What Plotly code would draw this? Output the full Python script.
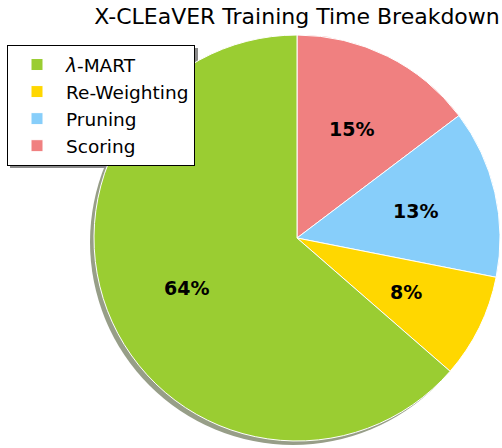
import math
import plotly.graph_objects as go

labels = ["<i>λ</i>-MART", "Re-Weighting", "Pruning", "Scoring"]
values = [63.6, 8.3, 13.4, 14.7]
colors = ["#9ACD32", "#FFD700", "#87CEFA", "#F08080"]
title = "X-CLEaVER Training Time Breakdown"

W, H = 502, 448
cx, cy, r = 297, 238, 203  # pie centre / radius in pixels (top-left origin)

# plotly draws clockwise from 12 o'clock; reference goes counter-clockwise,
# so feed the slices reversed and reverse the legend back.
fig = go.Figure(go.Pie(
    labels=labels[::-1], values=values[::-1], sort=False, direction="clockwise", rotation=0,
    marker=dict(colors=colors[::-1], line=dict(color="white", width=1)),
    textinfo="none",
    domain=dict(x=[(cx - r) / W, (cx + r) / W], y=[(H - cy - r) / H, (H - cy + r) / H]),
    hoverinfo="skip",
))

# percentage labels at 0.6 of the radius, in the middle of each slice
total = sum(values)
cum = 0.0
for v in values:
    ang = math.radians(90 + 360 * (cum + v / 2) / total)
    cum += v
    px = cx + 0.6 * r * math.cos(ang)
    py = cy - 0.6 * r * math.sin(ang)
    fig.add_annotation(x=px / W, y=(H - py) / H, xref="paper", yref="paper",
                       text=f"<b>{round(100 * v / total)}%</b>", showarrow=False,
                       font=dict(family="DejaVu Sans", size=19, color="black"),
                       xanchor="center", yanchor="middle")

sx, sy = 4, 4
fig.add_shape(type="circle", xref="paper", yref="paper", layer="below",
              x0=(cx - sx - r) / W, x1=(cx - sx + r) / W,
              y0=(H - cy - sy - r) / H, y1=(H - cy - sy + r) / H,
              fillcolor="#979E88", line=dict(width=0))
# legend shadow
lx0, ly0, lx1, ly1 = 10, 48, 198, 168
fig.add_shape(type="rect", xref="paper", yref="paper", layer="below",
              x0=lx0 / W, x1=lx1 / W, y0=(H - ly1) / H, y1=(H - ly0) / H,
              fillcolor="#8a8a8a", line=dict(width=0))

fig.update_layout(
    width=W, height=H, margin=dict(l=0, r=0, t=0, b=0),
    paper_bgcolor="white", plot_bgcolor="white",
    font=dict(family="DejaVu Sans", color="black"),
    title=dict(text=title, x=cx / W, xanchor="center", y=1 - 16 / H, yanchor="middle",
               yref="paper", font=dict(size=22, color="black")),
    legend=dict(x=7 / W, y=1 - 45 / H, xanchor="left", yanchor="top",
                bgcolor="white", bordercolor="black", borderwidth=1, traceorder="reversed",
                font=dict(size=18.5, color="black"), itemwidth=48, tracegroupgap=0),
    showlegend=True,
)

fig.write_html("out.html", config={"displayModeBar": False},
               post_script="document.body.style.margin='0';document.body.style.overflow='hidden';")
